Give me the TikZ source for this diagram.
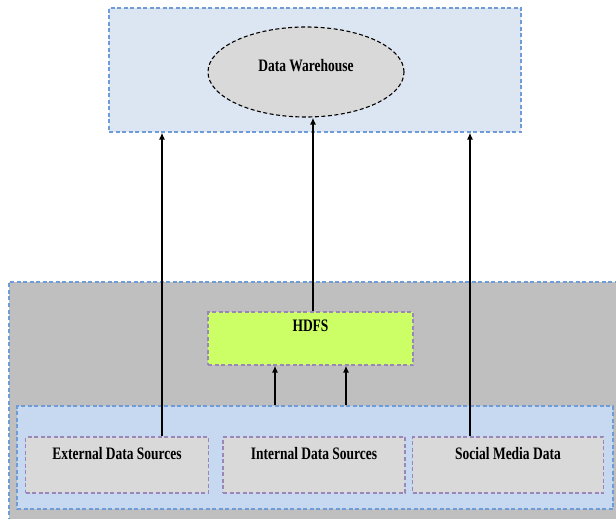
\documentclass[tikz,border=0pt]{standalone}
\usepackage{fontspec}
\newfontfamily\lblfont[FakeStretch=0.77]{Liberation Serif}
\usetikzlibrary{arrows.meta,shapes.geometric}
\definecolor{topfill}{HTML}{DCE6F2}
\definecolor{blueedge}{HTML}{6F9BD6}
\definecolor{grayfill}{HTML}{BFBFBF}
\definecolor{innerfill}{HTML}{C6D9F1}
\definecolor{srcfill}{HTML}{D9D9D9}
\definecolor{purpleedge}{HTML}{9A86B8}
\definecolor{hdfsfill}{HTML}{CCFF66}
\tikzset{
  x=1pt, y=-1pt,
  panel/.style={draw=blueedge, line width=1.1pt, dash pattern=on 4pt off 2.5pt, inner sep=0pt},
  srcbox/.style={draw=purpleedge, fill=srcfill, line width=1.1pt, dash pattern=on 4pt off 2.5pt, inner sep=0pt},
  lbl/.style={font=\lblfont\bfseries\fontsize{17.5}{20}\selectfont, inner sep=0pt},
  arr/.style={draw=black, line width=2pt, -{Latex[length=7pt,width=6pt]}}
}
\begin{document}
\begin{tikzpicture}
\useasboundingbox (0,0) rectangle (616,519);
\clip (0,0) rectangle (616,519);
\fill[white] (0,0) rectangle (616,519);

% storage layer
\node[panel, fill=topfill, minimum width=412pt, minimum height=124pt] (top) at (315,70) {};
\node[ellipse, draw=black, fill=srcfill, line width=1.1pt, dash pattern=on 4pt off 2.5pt,
      minimum width=196pt, minimum height=90pt, inner sep=0pt] (dw) at (306,72) {};
\node[lbl] (dwl) at (306,66) {Data Warehouse};

% ingestion layer
\node[panel, fill=grayfill, minimum width=620pt, minimum height=260pt] (hadoop) at (319,412) {};
\node[srcbox, draw=purpleedge, fill=hdfsfill, minimum width=205pt, minimum height=53pt] (hdfs) at (310.5,338.5) {};
\node[lbl] (hdfsl) at (310.5,326) {HDFS};

% data sources
\node[panel, fill=innerfill, minimum width=596pt, minimum height=103pt] (src) at (315,457.5) {};
\node[srcbox, minimum width=183pt, minimum height=56pt] (ext) at (117,465) {};
\node[srcbox, minimum width=182pt, minimum height=56pt] (int) at (314,465) {};
\node[srcbox, minimum width=191pt, minimum height=56pt] (soc) at (508,465) {};
\node[lbl] (extl) at (117,454) {External Data Sources};
\node[lbl] (intl) at (314,454) {Internal Data Sources};
\node[lbl] (socl) at (508,454) {Social Media Data};

% connectors
\coordinate (xa) at (162,0);
\coordinate (xb) at (313,0);
\coordinate (xc) at (470,0);
\coordinate (xd) at (275,0);
\coordinate (xe) at (346,0);
\draw[arr] (ext.north -| xa) -- (top.south -| xa);
\draw[arr] (soc.north -| xc) -- (top.south -| xc);
\draw[arr] (hdfs.north -| xb) -- (dw.south -| xb);
\draw[arr] (src.north -| xd) -- (hdfs.south -| xd);
\draw[arr] (src.north -| xe) -- (hdfs.south -| xe);
\end{tikzpicture}
\end{document}
